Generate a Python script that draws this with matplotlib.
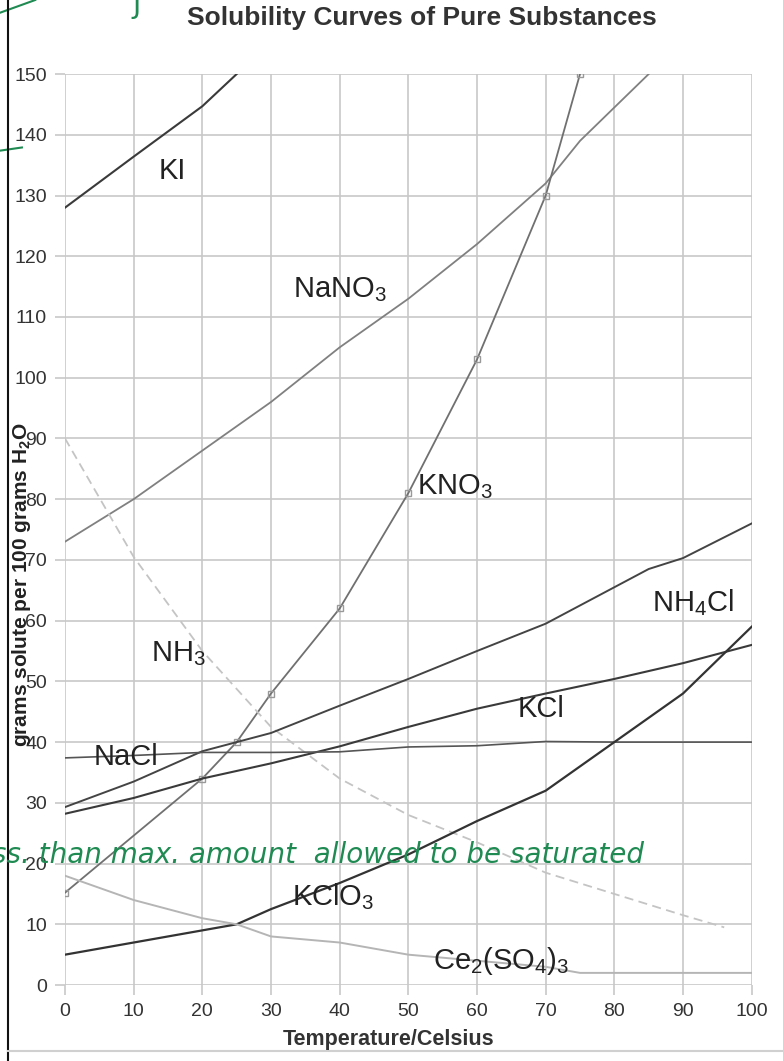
import matplotlib
matplotlib.use("Agg")
import matplotlib.pyplot as plt
from matplotlib.lines import Line2D

plt.rcParams["font.family"] = ["Liberation Sans", "DejaVu Sans"]
plt.rcParams["mathtext.fontset"] = "custom"
plt.rcParams["mathtext.rm"] = "Liberation Sans"
plt.rcParams["mathtext.default"] = "regular"

# solubility data (g solute / 100 g water)
ki_t = [0, 10, 20, 25]
ki = [128, 136.4, 144.7, 150]

nano3_t = [0, 10, 20, 30, 40, 50, 60, 70, 75, 80, 85]
nano3 = [73, 80, 88, 96, 105, 113, 122, 132, 139, 144.5, 150]

kno3_t = [0, 20, 25, 30, 40, 50, 60, 70, 75]
kno3 = [15.2, 34, 40, 48, 62, 81, 103, 130, 150]

nh3_t = [0, 10, 20, 30, 40, 50, 60, 70, 80, 90, 96]
nh3 = [90, 70.5, 55, 42.5, 34, 28, 23.5, 18.5, 15, 11.5, 9.5]

nh4cl_t = [0, 10, 20, 30, 40, 50, 60, 70, 80, 85, 90, 100]
nh4cl = [29.3, 33.5, 38.5, 41.5, 46, 50.4, 55, 59.5, 65.5, 68.5, 70.3, 76]

kcl_t = [0, 10, 20, 30, 40, 50, 60, 70, 80, 90, 100]
kcl = [28.2, 30.8, 34, 36.5, 39.3, 42.5, 45.5, 48, 50.4, 53, 56]

nacl_t = [0, 10, 20, 30, 40, 50, 60, 70, 80, 90, 100]
nacl = [37.4, 37.8, 38.3, 38.3, 38.4, 39.2, 39.4, 40.1, 40, 40, 40]

kclo3_t = [0, 10, 20, 25, 30, 40, 50, 60, 70, 80, 90, 100]
kclo3 = [5, 7, 9, 10, 12.5, 16.8, 21.5, 27, 32, 40, 48, 59]

ce_t = [0, 10, 20, 25, 30, 40, 50, 60, 70, 75, 80, 90, 100]
ce = [18, 14, 11, 10, 8, 7, 5, 4, 3, 2, 2, 2, 2]

labels = ["KI", "NaNO$_3$", "KNO$_3$", "NH$_4$Cl", "NH$_3$", "KCl", "NaCl",
          "KClO$_3$", "Ce$_2$(SO$_4$)$_3$"]
label_x = [15.6, 40, 56.8, 91.4, 16.5, 69.3, 8.9, 39, 63.5]
label_y = [134, 114.5, 82, 63, 54.5, 45.5, 37.5, 14.5, 4]

fig = plt.figure(figsize=(7.83, 10.61), dpi=100)
ax = fig.add_axes([0.083, 0.0716, 0.877, 0.8586])

ax.plot(ki_t, ki, color="#3a3a3a", lw=1.5)
ax.plot(nano3_t, nano3, color="#808080", lw=1.3)
ax.plot(kno3_t, kno3, color="#707070", lw=1.3, marker="s", ms=4,
        mfc="none", mec="#999999", mew=1)
ax.plot(nh3_t, nh3, color="#c4c4c4", lw=1.3, ls=(0, (5, 3)))
ax.plot(nh4cl_t, nh4cl, color="#444444", lw=1.4)
ax.plot(kcl_t, kcl, color="#3a3a3a", lw=1.5)
ax.plot(nacl_t, nacl, color="#555555", lw=1.2)
ax.plot(kclo3_t, kclo3, color="#333333", lw=1.6)
ax.plot(ce_t, ce, color="#b5b5b5", lw=1.4)

for lab, lx, ly in zip(labels, label_x, label_y):
    ax.text(lx, ly, lab, fontsize=21, color="#222222", ha="center", va="center")

ax.set_xlim(0, 100)
ax.set_ylim(0, 150)
ax.set_xticks(range(0, 101, 10))
ax.set_yticks(range(0, 151, 10))
ax.grid(True, color="#c8c8c8", lw=1.2)
ax.set_axisbelow(True)
for s in ax.spines.values():
    s.set_visible(False)
ax.tick_params(length=7, width=1.2, color="#c8c8c8", labelsize=14,
               labelcolor="#333333", pad=6)

fig.text(0.539, 0.983, "Solubility Curves of Pure Substances", ha="center",
         va="center", fontsize=19, fontweight="bold", color="#333333")
fig.text(0.496, 0.020, "Temperature/Celsius", ha="center", va="center",
         fontsize=15.5, fontweight="bold", color="#333333")
fig.text(0.028, 0.449, "grams solute per 100 grams H$_2$O", ha="center",
         va="center", rotation=90, fontsize=15, fontweight="bold",
         color="#222222")

# handwritten marks on the worksheet
green = "#1f8a52"
fig.text(-0.01, 0.194, "ss. than max. amount  allowed to be saturated",
         ha="left", va="center", fontsize=20, color=green,
         fontstyle="italic", family=["DejaVu Sans"], fontweight="light")
fig.text(0.175, 0.995, "J", ha="center", va="center", fontsize=20, color=green,
         family=["DejaVu Sans"])
fig.add_artist(Line2D([0.0, 0.028], [0.858, 0.861], color=green, lw=1.5))
fig.add_artist(Line2D([0.0, 0.045], [0.988, 1.0], color=green, lw=1.5))

# page border
fig.add_artist(Line2D([0.010, 0.010], [0, 1], color="#111111", lw=1.5))
fig.add_artist(Line2D([0.010, 1.0], [0.009, 0.009], color="#d0d0d0", lw=1.5))

fig.savefig("out.png", dpi=100)
